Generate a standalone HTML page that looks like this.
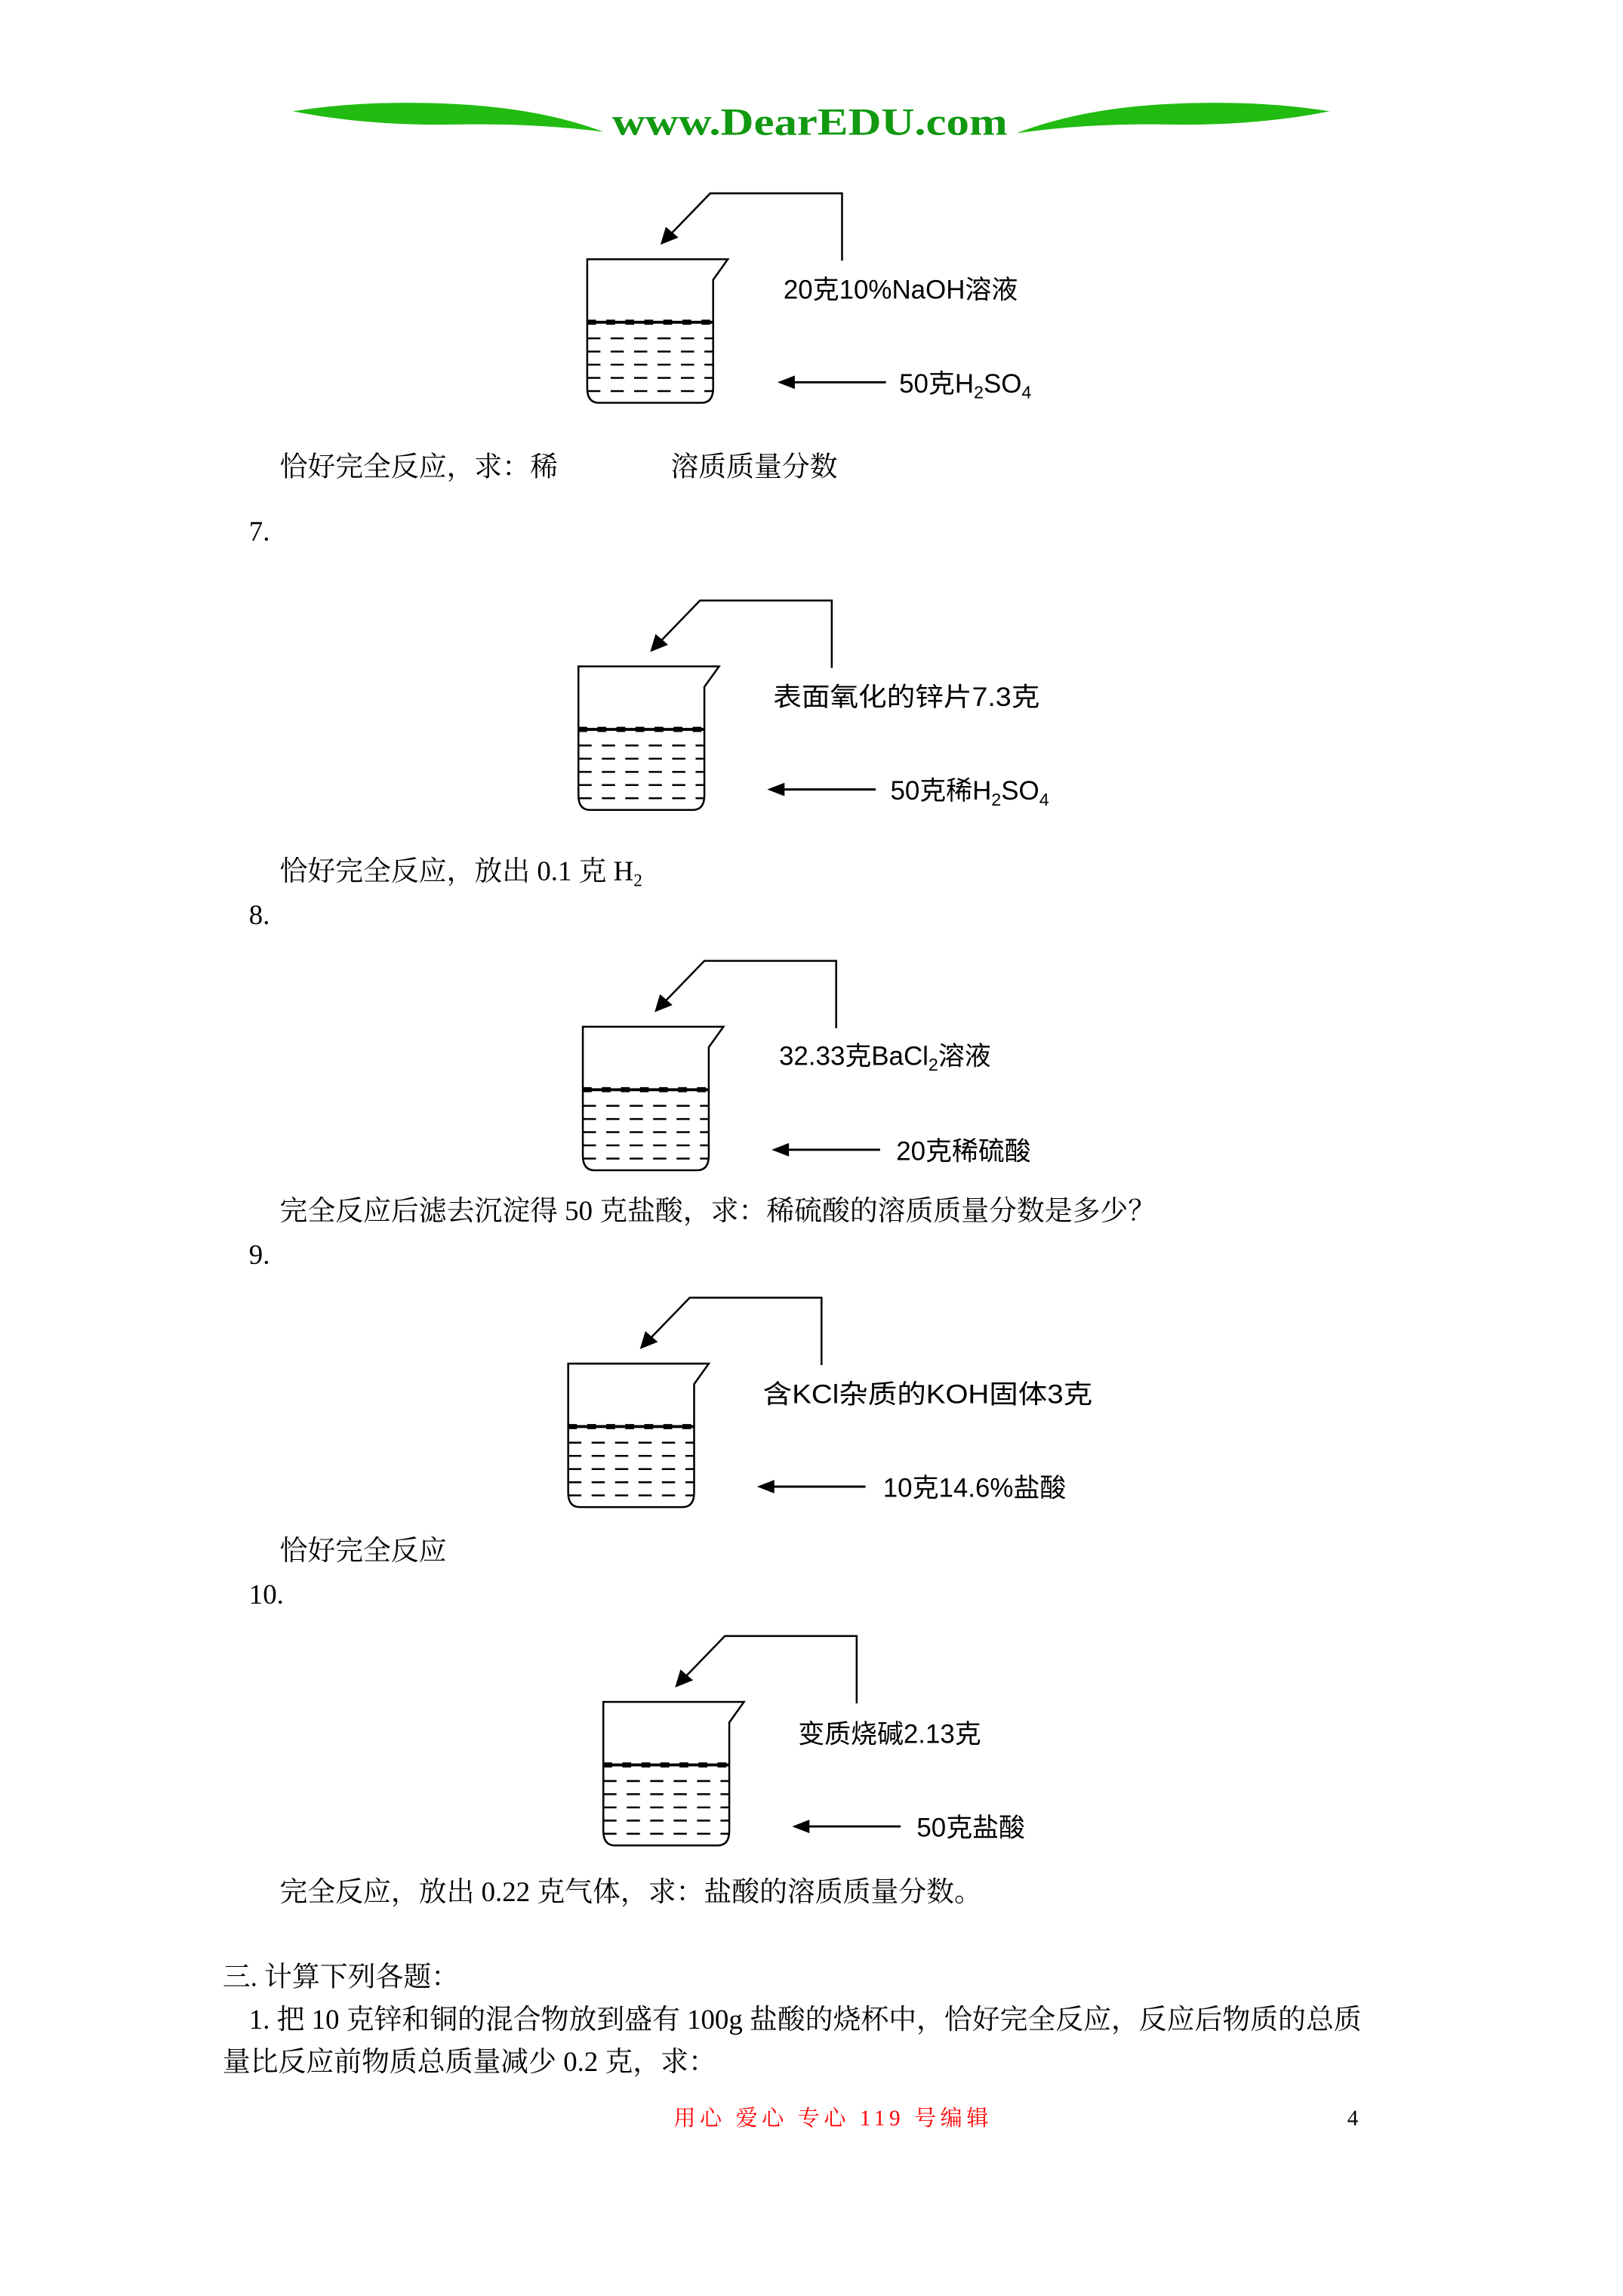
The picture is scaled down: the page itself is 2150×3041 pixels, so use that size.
<!DOCTYPE html>
<html><head><meta charset="utf-8"><style>
html,body{margin:0;padding:0;background:#fff;}
svg{display:block;}
.t{font-family:"Liberation Serif","Noto Serif CJK SC",serif;font-size:19px;fill:#000;}
.l{font-family:"Liberation Sans","Noto Sans CJK SC",sans-serif;font-size:18px;fill:#000;}
</style></head><body>
<svg width="2150" height="3041" viewBox="0 0 1108.3 1567.6" preserveAspectRatio="none" xmlns="http://www.w3.org/2000/svg">
<defs>
<g id="bk" fill="none" stroke="#000" stroke-width="1.3">
  <path d="M0,0 H96 L86,14 V88 Q86,98 78,98 H8 Q0,98 0,88 Z"/>
  <line x1="0" y1="43" x2="86" y2="43" stroke-width="2"/>
  <line x1="0" y1="43" x2="86" y2="43" stroke-width="3.5" stroke-dasharray="6,7"/>
  <line x1="0" y1="54" x2="86" y2="54" stroke-dasharray="9,7"/>
  <line x1="0" y1="63" x2="86" y2="63" stroke-dasharray="9,7"/>
  <line x1="0" y1="72" x2="86" y2="72" stroke-dasharray="9,7"/>
  <line x1="0" y1="81" x2="86" y2="81" stroke-dasharray="9,7"/>
  <line x1="0" y1="90" x2="86" y2="90" stroke-dasharray="9,7"/>
</g>
<g id="pour" fill="none" stroke="#000" stroke-width="1.3">
  <path d="M90,46 V0 H0 L-30,31"/>
  <path d="M-33,34 L-30,24 L-23,30 Z" fill="#000"/>
</g>
<g id="arr" stroke="#000" stroke-width="1.5">
  <line x1="0" y1="0" x2="72" y2="0"/>
  <path d="M0,0 L9,-3.5 L9,3.5 Z" fill="#000"/>
</g>
</defs>

<!-- header -->
<path d="M200,76 Q250,68 310,71 Q370,74 412,90 Q365,84 310,85 Q250,86 200,76 Z" fill="#22bb11"/>
<path d="M908,76 Q858,68 798,71 Q738,74 694,91 Q743,84 798,85 Q858,86 908,76 Z" fill="#22bb11"/>
<text x="553" y="92" text-anchor="middle" font-family="Liberation Serif,serif" font-weight="bold" font-size="26" fill="#119911" textLength="270" lengthAdjust="spacingAndGlyphs">www.DearEDU.com</text>

<!-- D1 -->
<use href="#pour" x="485" y="132"/>
<use href="#bk" x="401" y="177"/>
<text class="l" x="535" y="204">20克10%NaOH溶液</text>
<use href="#arr" x="533" y="261"/>
<text class="l" x="614" y="268">50克H<tspan font-size="12" dy="4">2</tspan><tspan dy="-4">SO</tspan><tspan font-size="12" dy="4">4</tspan></text>
<text class="t" x="191" y="325">恰好完全反应，求：稀</text>
<text class="t" x="458" y="325">溶质质量分数</text>
<text class="t" x="170" y="369">7.</text>

<!-- D2 -->
<use href="#pour" x="478" y="410"/>
<use href="#bk" x="395" y="455"/>
<text class="l" x="528" y="482" textLength="182" lengthAdjust="spacingAndGlyphs">表面氧化的锌片7.3克</text>
<use href="#arr" x="526" y="539"/>
<text class="l" x="608" y="546">50克稀H<tspan font-size="12" dy="4">2</tspan><tspan dy="-4">SO</tspan><tspan font-size="12" dy="4">4</tspan></text>
<text class="t" x="191" y="601">恰好完全反应，放出 0.1 克 H<tspan font-size="12" dy="4">2</tspan></text>
<text class="t" x="170" y="631">8.</text>

<!-- D3 -->
<use href="#pour" x="481" y="656"/>
<use href="#bk" x="398" y="701"/>
<text class="l" x="532" y="727">32.33克BaCl<tspan font-size="12" dy="4">2</tspan><tspan dy="-4">溶液</tspan></text>
<use href="#arr" x="529" y="785"/>
<text class="l" x="612" y="792">20克稀硫酸</text>
<text class="t" x="191" y="833">完全反应后滤去沉淀得 50 克盐酸，求：稀硫酸的溶质质量分数是多少？</text>
<text class="t" x="170" y="863">9.</text>

<!-- D4 -->
<use href="#pour" x="471" y="886"/>
<use href="#bk" x="388" y="931"/>
<text class="l" x="521" y="958" textLength="225" lengthAdjust="spacingAndGlyphs">含KCl杂质的KOH固体3克</text>
<use href="#arr" x="519" y="1015"/>
<text class="l" x="603" y="1022">10克14.6%盐酸</text>
<text class="t" x="191" y="1065">恰好完全反应</text>
<text class="t" x="170" y="1095">10.</text>

<!-- D5 -->
<use href="#pour" x="495" y="1117"/>
<use href="#bk" x="412" y="1162"/>
<text class="l" x="545" y="1190">变质烧碱2.13克</text>
<use href="#arr" x="543" y="1247"/>
<text class="l" x="626" y="1254">50克盐酸</text>
<text class="t" x="191" y="1298">完全反应，放出 0.22 克气体，求：盐酸的溶质质量分数。</text>

<text class="t" x="152" y="1356">三. 计算下列各题：</text>
<text class="t" x="170" y="1385">1. 把 10 克锌和铜的混合物放到盛有 100g 盐酸的烧杯中，恰好完全反应，反应后物质的总质</text>
<text class="t" x="152" y="1414">量比反应前物质总质量减少 0.2 克，求：</text>

<text x="460" y="1451" font-family="Liberation Serif,'Noto Serif CJK SC',serif" font-size="15" fill="#ff0000" textLength="215" lengthAdjust="spacing">用心 爱心 专心 119 号编辑</text>
<text x="920" y="1451" font-family="Liberation Serif,serif" font-size="15" fill="#000">4</text>
</svg>
</body></html>
